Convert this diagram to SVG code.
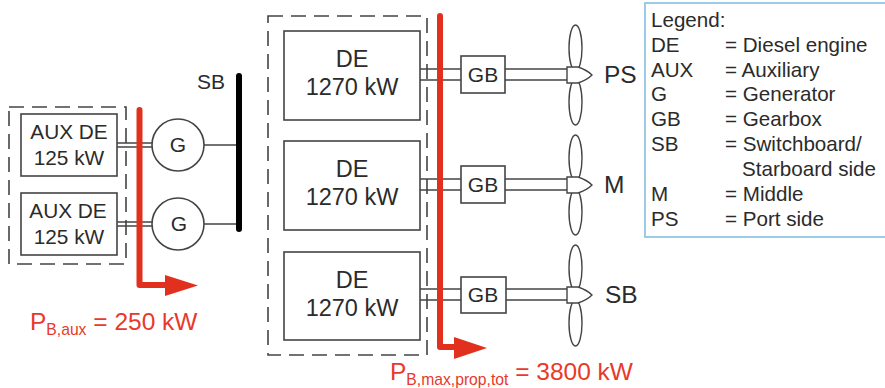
<svg xmlns="http://www.w3.org/2000/svg" width="885" height="388" viewBox="0 0 885 388">
<style>
text{font-family:"Liberation Sans",Arial,sans-serif;fill:#2b2b2b}
.box{fill:#fff;stroke:#444;stroke-width:1.6}
.dash{fill:none;stroke:#444;stroke-width:1.6;stroke-dasharray:15 8}
.line{fill:none;stroke:#444;stroke-width:1.5}
.blade{fill:#fff;stroke:#444;stroke-width:1.4}
.t20{font-size:20.800px;text-anchor:middle}
.t18{font-size:21px;text-anchor:middle}
.de{font-size:23.500px;text-anchor:middle}
.lab{font-size:24.500px}
.red{fill:#e8392b;font-size:24.500px}
.sub{font-size:15.700px;fill:#e8392b}
.leg{font-size:20.600px}
.flow{fill:none;stroke:#e2301f;stroke-width:6;stroke-linejoin:round;stroke-linecap:round}
</style>
<rect width="885" height="388" fill="#fff"/>
<g id="dash-aux"><rect class="dash" x="9" y="107" width="117" height="157"/></g>
<g id="dash-main"><rect class="dash" x="268" y="16" width="159" height="339"/></g>
<g id="connectors">
<path class="line" d="M117 143H152M117 147H152M117 222H152M117 226H152M204 145H239M204 224H239"/>
<path class="line" d="M420 69H461M420 80H461M505 69H567M505 80H567M420 179H461M420 190H461M505 179H567M505 190H567M420 289H461M420 300H461M505 289H567M505 300H567"/>
</g>
<g id="aux1"><rect class="box" x="21" y="114" width="96" height="62"/><text class="t20" x="69" y="139">AUX DE</text><text class="t20" x="69" y="165">125 kW</text></g>
<g id="aux2"><rect class="box" x="21" y="193" width="96" height="62"/><text class="t20" x="68" y="218">AUX DE</text><text class="t20" x="69" y="244">125 kW</text></g>
<g id="g1"><circle class="box" cx="178" cy="145" r="26"/><text class="t18" x="178" y="152">G</text></g>
<g id="g2"><circle class="box" cx="178" cy="224" r="26"/><text class="t18" x="179" y="231">G</text></g>
<g id="sb-bar"><path d="M239 76V229" fill="none" stroke="#000" stroke-width="6" stroke-linecap="round"/><text class="t18" x="211" y="89">SB</text></g>
<g id="de1"><rect class="box" x="284" y="31" width="136" height="89"/><text class="de" x="352" y="67">DE</text><text class="de" x="352" y="95">1270 kW</text></g>
<g id="de2"><rect class="box" x="284" y="141" width="136" height="89"/><text class="de" x="352" y="177">DE</text><text class="de" x="352" y="205">1270 kW</text></g>
<g id="de3"><rect class="box" x="284" y="252" width="136" height="88"/><text class="de" x="352" y="288">DE</text><text class="de" x="352" y="316">1270 kW</text></g>
<g id="gb1"><rect class="box" x="461" y="56" width="44" height="37"/><text class="t18" x="483" y="82">GB</text></g>
<g id="gb2"><rect class="box" x="461" y="166" width="44" height="37"/><text class="t18" x="483" y="192">GB</text></g>
<g id="gb3"><rect class="box" x="461" y="277" width="45" height="36"/><text class="t18" x="483" y="302">GB</text></g>
<g id="prop1"><ellipse class="blade" cx="575.500" cy="48" rx="6.500" ry="23"/><ellipse class="blade" cx="575.500" cy="102" rx="6.500" ry="23"/><path class="blade" d="M567 67H578Q587 70 592 75Q587 80 578 83H567Z"/><text class="lab" x="604" y="83">PS</text></g>
<g id="prop2"><ellipse class="blade" cx="575.500" cy="158" rx="6.500" ry="23"/><ellipse class="blade" cx="575.500" cy="212" rx="6.500" ry="23"/><path class="blade" d="M567 177H578Q587 180 592 185Q587 190 578 193H567Z"/><text class="lab" x="604" y="193">M</text></g>
<g id="prop3"><ellipse class="blade" cx="575.500" cy="268" rx="6.500" ry="23"/><ellipse class="blade" cx="575.500" cy="323" rx="6.500" ry="23"/><path class="blade" d="M567 287H578Q587 290 592 295Q587 300 578 303H567Z"/><text class="lab" x="605" y="303">SB</text></g>
<g id="flow-aux"><path class="flow" d="M139.500 110V285H168"/><path d="M165 275L198 285.500L165 296Z" fill="#e2301f"/></g>
<g id="flow-main"><path class="flow" d="M440 16V347H458"/><path d="M454 337L487 348L454 359Z" fill="#e2301f"/></g>
<g id="label-aux"><text class="red" x="30" y="330">P<tspan class="sub" dy="5">B,aux</tspan><tspan dy="-5"> = 250 kW</tspan></text></g>
<g id="label-main"><text class="red" x="390" y="380">P<tspan class="sub" dy="5">B,max,prop,tot</tspan><tspan dy="-5"> = 3800 kW</tspan></text></g>
<g id="legend"><rect x="645" y="3" width="245" height="234" fill="#fff" stroke="#9ccbe8" stroke-width="2"/>
<text class="leg" x="651" y="27">Legend:</text>
<text class="leg" x="651" y="52">DE</text><text class="leg" x="725" y="52">= Diesel engine</text>
<text class="leg" x="651" y="77">AUX</text><text class="leg" x="725" y="77">= Auxiliary</text>
<text class="leg" x="651" y="101">G</text><text class="leg" x="725" y="101">= Generator</text>
<text class="leg" x="651" y="126">GB</text><text class="leg" x="725" y="126">= Gearbox</text>
<text class="leg" x="651" y="151">SB</text><text class="leg" x="725" y="151">= Switchboard/</text>
<text class="leg" x="742" y="176">Starboard side</text>
<text class="leg" x="651" y="201">M</text><text class="leg" x="725" y="201">= Middle</text>
<text class="leg" x="651" y="226">PS</text><text class="leg" x="725" y="226">= Port side</text>
</g>
</svg>
